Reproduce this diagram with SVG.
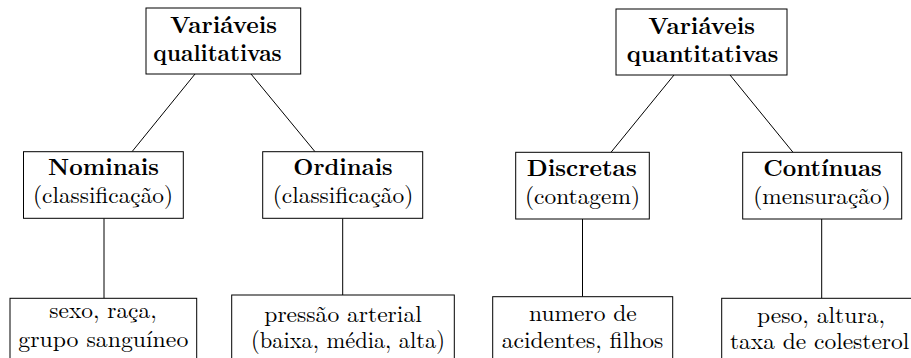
<svg xmlns="http://www.w3.org/2000/svg" width="911" height="358" viewBox="0 0 911 358">
<style>
.n rect{fill:#fff;stroke:#000;stroke-width:1}
.c line{stroke:#000;stroke-width:1}
.b{font-weight:bold}
</style>
<rect x="0" y="0" width="911" height="358" style="fill:#fff;stroke:none"/>
<g class="c" id="connectors">
<line x1="195" y1="74" x2="132" y2="151.7"/>
<line x1="251" y1="74" x2="315" y2="151.7"/>
<line x1="104" y1="218.3" x2="104" y2="298.3"/>
<line x1="342.7" y1="218.3" x2="342.7" y2="295"/>
<line x1="674" y1="75" x2="611" y2="152.3"/>
<line x1="730" y1="75" x2="793" y2="152.3"/>
<line x1="582.5" y1="219" x2="582.5" y2="296.7"/>
<line x1="821.7" y1="219" x2="821.7" y2="298.3"/>
</g>
<g class="n" font-family="Latin Modern Roman, Liberation Serif, serif" font-size="23.4" fill="#000">
<g id="qual">
<rect x="146" y="8" width="154.7" height="66"/>
<text class="b" x="170" y="32.5" textLength="107" lengthAdjust="spacingAndGlyphs">Variáveis</text>
<text class="b" x="153.3" y="60.5" textLength="128.4" lengthAdjust="spacingAndGlyphs">qualitativas</text>
</g>
<g id="nominais">
<rect x="23.5" y="151.7" width="159.8" height="66.6"/>
<text class="b" x="48" y="175" textLength="111" lengthAdjust="spacingAndGlyphs">Nominais</text>
<text x="33" y="203" textLength="140" lengthAdjust="spacingAndGlyphs">(classificação)</text>
</g>
<g id="ordinais">
<rect x="262.7" y="151.7" width="160" height="66.6"/>
<text class="b" x="293.3" y="175" textLength="99.4" lengthAdjust="spacingAndGlyphs">Ordinais</text>
<text x="272.7" y="203" textLength="140.6" lengthAdjust="spacingAndGlyphs">(classificação)</text>
</g>
<g id="ex-nominais">
<rect x="10" y="298.3" width="186.7" height="70"/>
<text x="49.3" y="318.3" textLength="107.4" lengthAdjust="spacingAndGlyphs">sexo, raça,</text>
<text x="18.3" y="346.7" textLength="170" lengthAdjust="spacingAndGlyphs">grupo sanguíneo</text>
</g>
<g id="ex-ordinais">
<rect x="231.7" y="295" width="222.6" height="70"/>
<text x="264.3" y="321.7" textLength="157.4" lengthAdjust="spacingAndGlyphs">pressão arterial</text>
<text x="251" y="348.3" textLength="194" lengthAdjust="spacingAndGlyphs">(baixa, média, alta)</text>
</g>
<g id="quant">
<rect x="616" y="9" width="171" height="66"/>
<text class="b" x="648.3" y="33.5" textLength="106.7" lengthAdjust="spacingAndGlyphs">Variáveis</text>
<text class="b" x="626.7" y="61.5" textLength="151.6" lengthAdjust="spacingAndGlyphs">quantitativas</text>
</g>
<g id="discretas">
<rect x="515.7" y="152.3" width="133.6" height="66.7"/>
<text class="b" x="526.7" y="176" textLength="110" lengthAdjust="spacingAndGlyphs">Discretas</text>
<text x="525" y="203.5" textLength="115" lengthAdjust="spacingAndGlyphs">(contagem)</text>
</g>
<g id="continuas">
<rect x="742.7" y="152.3" width="159" height="66.7"/>
<text class="b" x="763.3" y="176" textLength="118.4" lengthAdjust="spacingAndGlyphs">Contínuas</text>
<text x="753.3" y="203.5" textLength="137.4" lengthAdjust="spacingAndGlyphs">(mensuração)</text>
</g>
<g id="ex-discretas">
<rect x="492.7" y="296.7" width="180" height="70"/>
<text x="529" y="321" textLength="107.7" lengthAdjust="spacingAndGlyphs">numero de</text>
<text x="501.7" y="348" textLength="161.6" lengthAdjust="spacingAndGlyphs">acidentes, filhos</text>
</g>
<g id="ex-continuas">
<rect x="721.7" y="298.3" width="195" height="70"/>
<text x="757" y="322.7" textLength="128" lengthAdjust="spacingAndGlyphs">peso, altura,</text>
<text x="730" y="349" textLength="179.3" lengthAdjust="spacingAndGlyphs">taxa de colesterol</text>
</g>
</g>
</svg>
